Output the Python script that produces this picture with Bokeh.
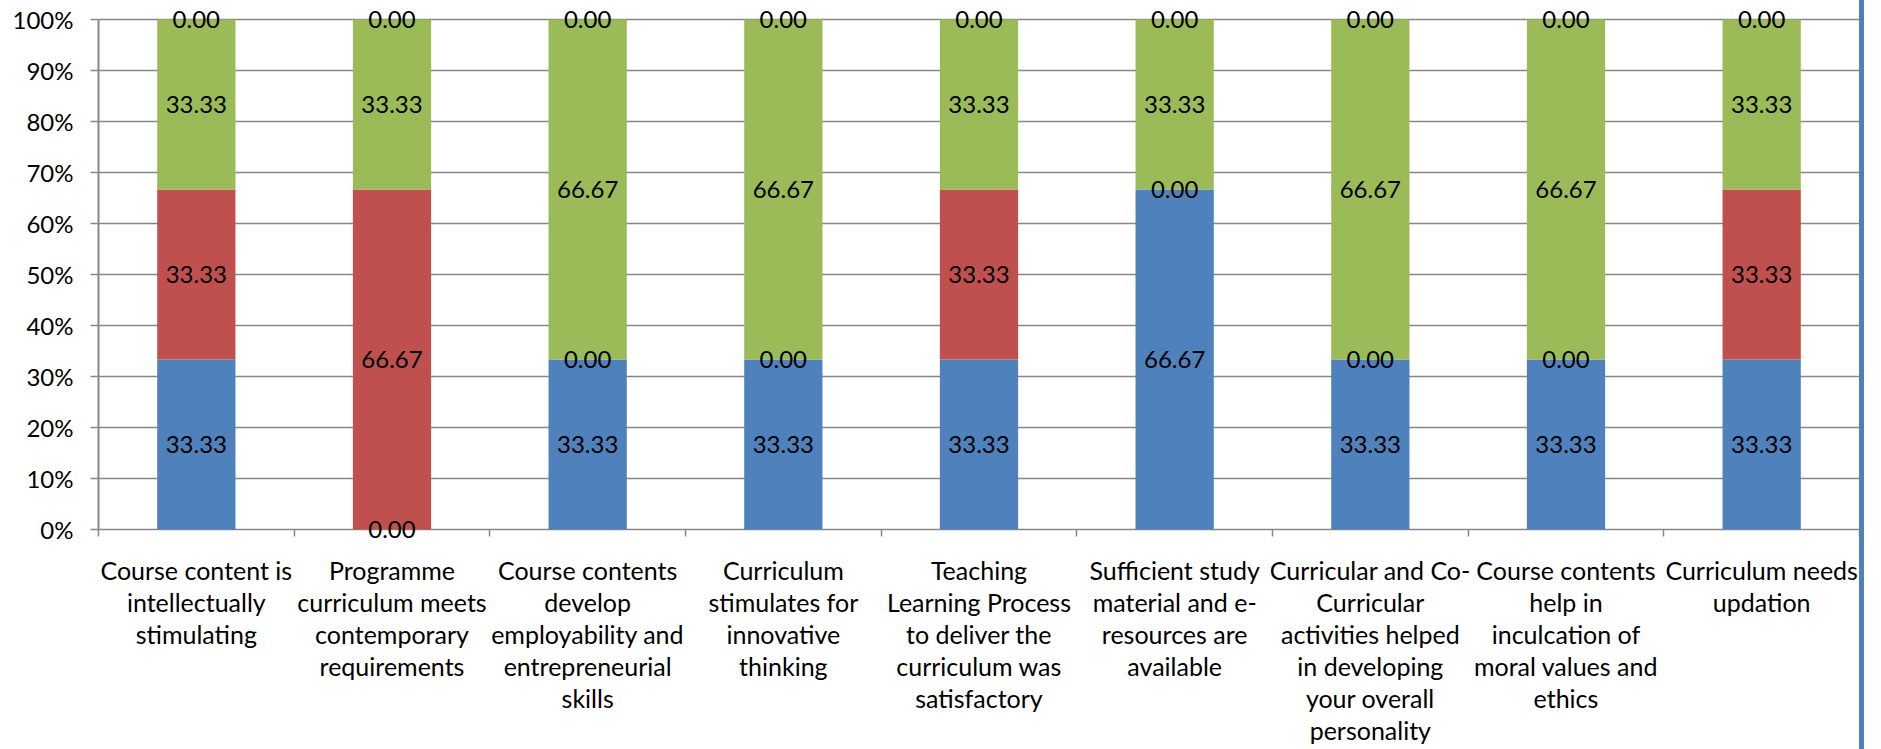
from bokeh.plotting import figure
from bokeh.models import ColumnDataSource, FixedTicker, PrintfTickFormatter, LabelSet, Range1d, Div
from bokeh.core.properties import value
from bokeh.layouts import row
from bokeh.embed import file_html
from bokeh.resources import INLINE

categories = [
    "Course content is\nintellectually\nstimulating",
    "Programme\ncurriculum meets\ncontemporary\nrequirements",
    "Course contents\ndevelop\nemployability and\nentrepreneurial\nskills",
    "Curriculum\nstimulates for\ninnovative\nthinking",
    "Teaching\nLearning Process\nto deliver the\ncurriculum was\nsatisfactory",
    "Sufficient study\nmaterial and e-\nresources are\navailable",
    "Curricular and Co-\nCurricular\nactivities helped\nin developing\nyour overall\npersonality",
    "Course contents\nhelp in\ninculcation of\nmoral values and\nethics",
    "Curriculum needs\nupdation",
]
blue = [33.33, 0.00, 33.33, 33.33, 33.33, 66.67, 33.33, 33.33, 33.33]
red = [33.33, 66.67, 0.00, 0.00, 33.33, 0.00, 0.00, 0.00, 33.33]
green = [33.33, 33.33, 66.67, 66.67, 33.33, 33.33, 66.67, 66.67, 33.33]
other = [0.00, 0.00, 0.00, 0.00, 0.00, 0.00, 0.00, 0.00, 0.00]
y_ticks = [0, 10, 20, 30, 40, 50, 60, 70, 80, 90, 100]

series = [blue, red, green, other]
colors = ["#4F81BD", "#C0504D", "#9BBB59", "#8064A2"]
FONT = "Lato"
YFS = "24px"
XFS = "25px"
LFS = "24px"
GRID = "#878787"

n = len(categories)
xs = list(range(1, n + 1))
totals = [sum(s[i] for s in series) for i in range(n)]

p = figure(width=1859, height=749, output_backend="svg", toolbar_location=None,
           x_range=Range1d(0.5, n + 0.5), y_range=Range1d(-2.55, 103.73),
           min_border_left=98, min_border_right=0, min_border_top=0, min_border_bottom=207)
p.outline_line_color = None
p.xgrid.grid_line_color = None
p.ygrid.grid_line_color = GRID
p.ygrid.grid_line_width = 1.5

lab_x, lab_y, lab_t = [], [], []
bottoms = [0.0] * n
for s, c in zip(series, colors):
    pct = [s[i] / totals[i] * 100 for i in range(n)]
    tops = [bottoms[i] + pct[i] for i in range(n)]
    src = ColumnDataSource(dict(x=xs, bottom=list(bottoms), top=tops))
    p.vbar(x="x", bottom="bottom", top="top", width=0.4, source=src,
           fill_color=c, line_color=None)
    for i in range(n):
        lab_x.append(xs[i])
        lab_y.append((bottoms[i] + tops[i]) / 2)
        lab_t.append("%.2f" % s[i])
    bottoms = tops

lsrc = ColumnDataSource(dict(x=lab_x, y=lab_y, t=lab_t))
p.add_layout(LabelSet(x="x", y="y", text="t", source=lsrc, text_align="center",
                      text_baseline="middle", text_font=value(FONT),
                      text_font_size=value(LFS), text_color="black"))

xa = p.xaxis[0]
xa.ticker = FixedTicker(ticks=xs, minor_ticks=[i + 0.5 for i in range(0, n + 1)])
xa.major_label_overrides = {x: c for x, c in zip(xs, categories)}
xa.major_tick_out = 0
xa.major_tick_in = 0
xa.minor_tick_out = -6
xa.minor_tick_in = 13
xa.minor_tick_line_color = GRID
xa.minor_tick_line_width = 1.5
xa.axis_line_color = None
xa.major_label_standoff = 12
xa.major_label_text_font = FONT
xa.major_label_text_font_size = XFS
xa.major_label_text_color = "black"
xa.major_label_text_line_height = 1.07

ya = p.yaxis[0]
ya.ticker = FixedTicker(ticks=y_ticks, minor_ticks=[])
ya.formatter = PrintfTickFormatter(format="%d%%")
ya.bounds = (0, 100)
ya.major_tick_out = 8
ya.major_tick_in = 0
ya.major_tick_line_color = GRID
ya.major_tick_line_width = 1.5
ya.axis_line_color = GRID
ya.axis_line_width = 2
ya.major_label_standoff = 17
ya.major_label_text_font = FONT
ya.major_label_text_font_size = YFS
ya.major_label_text_color = "black"

edge = Div(width=5, height=749, margin=0, styles={"background-color": "#4F81BD"})
layout = row(p, edge, spacing=0)

open("out.html", "w").write(file_html(layout, INLINE))
